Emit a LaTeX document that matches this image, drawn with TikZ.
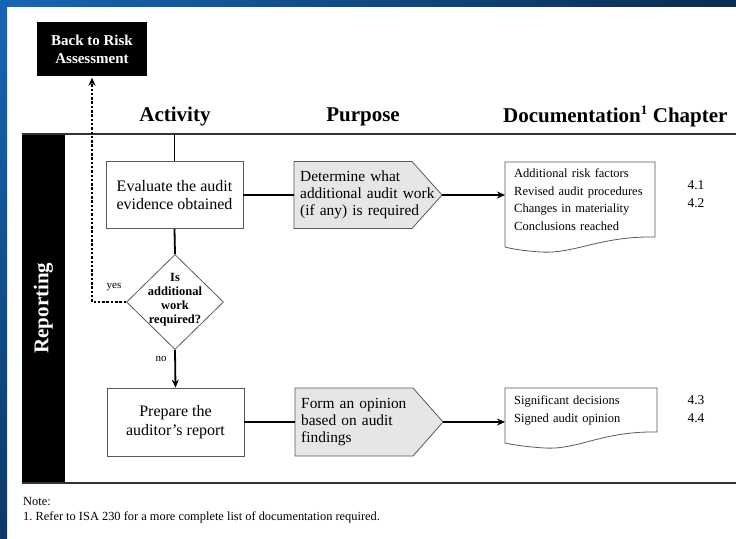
\documentclass[tikz,border=0pt]{standalone}
\usepackage{fontspec}
\setmainfont{Liberation Serif}
\usetikzlibrary{arrows.meta,shapes.geometric}
\definecolor{frameA}{HTML}{1666B6}
\definecolor{frameB}{HTML}{0B2C4F}
\definecolor{frameC}{HTML}{0C3966}
\definecolor{purpfill}{HTML}{E6E6E6}
\definecolor{edge}{HTML}{5A5A5A}
\begin{document}
\begin{tikzpicture}[x=1pt,y=-1pt,
  actbox/.style={draw=edge,line width=0.8pt,fill=white,minimum width=137pt,minimum height=67pt,
    align=center,inner sep=0pt,font=\fontsize{16}{18.5}\selectfont},
  purptext/.style={anchor=west,inner xsep=6pt,inner ysep=0pt,text width=140pt,align=left,
    font=\fontsize{15.4}{16.8}\selectfont},
  purpshape/.style={draw=edge,line width=0.8pt,fill=purpfill},
  doctext/.style={anchor=north west,inner xsep=9pt,inner ysep=0pt,text width=134pt,align=left,
    font=\fontsize{12.5}{17.8}\selectfont},
  docshape/.style={draw=edge,line width=0.8pt,fill=white},
  chap/.style={align=center,inner sep=0pt,font=\fontsize{13.5}{18}\selectfont},
  header/.style={inner sep=0pt,font=\bfseries\fontsize{21}{24}\selectfont},
  conn/.style={line width=1.8pt,black},
  arr/.style={line width=1.8pt,black,-{Stealth[length=8pt,width=7pt]}},
  dasharr/.style={line width=1.4pt,black,dash pattern=on 2.5pt off 1.8pt,-{Stealth[length=8pt,width=7pt]}},
  small/.style={inner sep=0pt,font=\fontsize{11}{13}\selectfont},
  notetext/.style={inner sep=0pt,anchor=west,font=\fontsize{12.4}{14}\selectfont},
  rule/.style={line width=2pt,black!80}
]
\useasboundingbox (0,0) rectangle (736,538);
\fill[white] (0,0) rectangle (736,538);
% frame
\shade[left color=frameA,right color=frameB] (0,0) rectangle (736,6);
\shade[top color=frameA,bottom color=frameC] (0,0) rectangle (7,538);

% back box
\node[fill=black,text=white,minimum width=110pt,minimum height=54pt,align=center,inner sep=0pt,
  font=\bfseries\fontsize{15}{18}\selectfont] (back) at (92,49) {Back to Risk\\Assessment};

% headers
\node[header] (hact) at (175,116.5) {Activity};
\node[header] (hpur) at (363,116.5) {Purpose};
\node[header,anchor=west] (hdoc) at (503,116.5) {Documentation\textsuperscript{\fontsize{13}{13}\selectfont 1}\hspace{5pt}Chapter};

% band and rules
\fill[black] (22,134) rectangle (65,483);
\node[rotate=90,text=white,inner sep=0pt,font=\bfseries\fontsize{21}{24}\selectfont] (band) at (43.5,308) {Reporting};
\draw[rule] (22,134) -- (736,134);
\draw[rule] (22,483) -- (736,483);
\coordinate (tl) at (174.5,134);

% purpose shapes
\draw[purpshape] (294,161.5) -- (412,161.5) -- (442,195) -- (412,228.5) -- (294,228.5) -- cycle;
\draw[purpshape] (295,388) -- (413,388) -- (443,422) -- (413,456) -- (295,456) -- cycle;
\coordinate (h1tip) at (442,195);
\coordinate (h2tip) at (443,422);

% documentation shapes
\draw[docshape] (505,162) -- (655,162) -- (655,237)
  .. controls (600,236) and (575,254) .. (541,252)
  .. controls (525,251) and (512,249) .. (505,247) -- cycle;
\draw[docshape] (505,388) -- (657,388) -- (657,432)
  .. controls (602,431) and (578,450) .. (545,448)
  .. controls (528,447) and (514,445) .. (505,443) -- cycle;

% nodes
\node[actbox] (e) at (174.5,195) {Evaluate the audit\\evidence obtained};
\node[actbox,minimum width=137pt,minimum height=68pt] (p) at (175.5,422) {Prepare the\\auditor’s report};
\node[purptext] (h1) at (294,195) {Determine what\\additional audit work\\(if any) is required};
\node[purptext] (h2) at (295,422) {Form an opinion\\based on audit\\findings};
\node[doctext,minimum height=75pt] (d1) at (505,162) {Additional risk factors\\Revised audit procedures\\Changes in materiality\\Conclusions reached};
\node[doctext,minimum height=44pt] (d2) at (505,388) {Significant decisions\\Signed audit opinion};
\node[chap] (c1) at (696,194) {4.1\\4.2};
\node[chap] (c2) at (696,409) {4.3\\4.4};

% decision
\node[diamond,draw=edge,line width=0.8pt,fill=white,minimum width=97pt,minimum height=95pt,inner sep=0pt] (q) at (175,302) {};
\node[align=center,inner sep=0pt,font=\bfseries\fontsize{12.5}{14}\selectfont] (qt) at (175,300) {Is\\additional\\work\\required?};
\node[small] (yes) at (114,287) {yes};
\node[small] (no) at (161,359) {no};

% connectors
\draw[conn] (tl) -- (e.north);
\draw[conn] (e.south) -- (q.north);
\draw[arr] (q.south) -- (p.north);
\draw[conn] (e.east) -- (h1.west);
\draw[conn] (p.east) -- (h2.west);
\draw[arr] (h1tip) -- (h1tip -| d1.west);
\draw[arr] (h2tip) -- (h2tip -| d2.west);
\draw[dasharr,shorten >=1.5pt] (q.west) -- (q.west -| back.south) -- (back.south);

% note
\node[notetext] (note) at (23,502) {Note:};
\node[notetext] (note1) at (23,517) {1.\ Refer to ISA 230 for a more complete list of documentation required.};
\end{tikzpicture}
\end{document}
